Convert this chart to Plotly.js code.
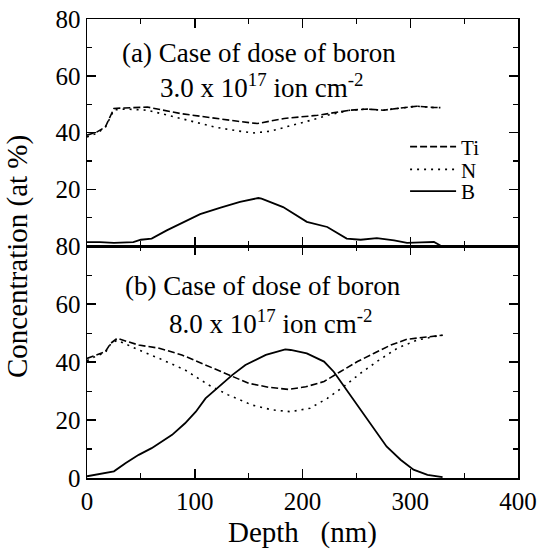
<!DOCTYPE html>
<html>
<head>
<meta charset="utf-8">
<script src="https://cdn.plot.ly/plotly-3.0.1.min.js"></script>
<style>html,body{margin:0;padding:0;background:#fff;}#chart{width:537px;height:549px;}</style>
</head>
<body>
<div id="chart"></div>
<script>
// ---- Panel (a): dose 3.0e17 ----
const tiA_x = [0, 9, 17, 22, 25, 35, 56, 87, 118, 140, 158, 183, 214, 244, 260, 275, 290, 306, 320, 328];
const tiA_y = [39.1, 40.2, 42, 46.1, 48.5, 48.7, 49, 46.7, 45, 44, 43.2, 45, 46.1, 47.9, 48.3, 47.9, 48.6, 49.3, 48.9, 48.8];
const nA_x = [0, 9, 17, 22, 25, 35, 56, 87, 118, 140, 155, 170, 183, 200, 214, 224, 244, 260, 275, 290, 306, 320, 328];
const nA_y = [38.5, 39.8, 41.8, 45.8, 48, 48.3, 47.9, 45, 42, 40.6, 39.9, 40.5, 41.8, 43.5, 45, 46.2, 47.9, 48.3, 47.9, 48.6, 49.3, 48.9, 48.8];
const bA_x = [0, 12, 25, 43, 50, 60, 74, 93, 105, 124, 142, 159, 162, 182, 204, 223, 241, 254, 269, 285, 297, 310, 322, 328];
const bA_y = [1.5, 1.5, 1.2, 1.5, 2.3, 2.7, 5.6, 9.2, 11.3, 13.6, 15.6, 17, 16.8, 13.8, 8.6, 6.8, 2.7, 2.3, 2.9, 2.1, 1.2, 1.4, 1.5, 0.3];

// ---- Panel (b): dose 8.0e17 ----
const tiB_x = [0, 8, 17, 22, 28, 48, 67, 88, 110, 131, 150, 169, 187, 203, 220, 235, 251, 266, 282, 297, 319, 330];
const tiB_y = [41.3, 42.5, 43.6, 46.5, 48.2, 45.9, 44.8, 42.5, 39, 35.6, 32.7, 31.3, 30.6, 31.5, 33.3, 36.7, 40.2, 43, 45.9, 47.9, 49, 49.3];
const nB_x = [0, 8, 17, 22, 28, 48, 67, 91, 113, 131, 153, 172, 189, 207, 223, 238, 254, 269, 288, 306, 325, 330];
const nB_y = [40.5, 42, 43.3, 46.3, 47.6, 44.2, 41.3, 37.3, 32.1, 28.7, 25.2, 23.5, 22.9, 24.1, 27.5, 31.5, 36.2, 40.2, 44.8, 47.6, 49, 49.3];
const bB_x = [0, 11, 25, 36, 48, 60, 79, 91, 101, 110, 122, 135, 147, 166, 184, 189, 204, 220, 229, 241, 254, 266, 278, 291, 303, 316, 330];
const bB_y = [0.6, 1.4, 2.3, 5.2, 8.0, 10.3, 14.9, 18.9, 22.9, 27.5, 31.5, 35.6, 39, 42.5, 44.4, 44.2, 43, 40.2, 36.7, 30.4, 23.5, 17.2, 10.9, 6.3, 2.9, 1.1, 0.3];

const seriesNames = ['Ti', 'N', 'B'];
const xTicks = [0, 100, 200, 300, 400];
const yTicksTop = [20, 40, 60, 80];
const yTicksBottom = [0, 20, 40, 60, 80];
const xTitle = 'Depth\u00A0\u00A0\u00A0(nm)';
const yTitle = 'Concentration (at %)';
const labelA1 = '(a) Case of dose of boron';
const labelA2 = '3.0 x 10<sup>17</sup> ion cm<sup>-2</sup>';
const labelB1 = '(b) Case of dose of boron';
const labelB2 = '8.0 x 10<sup>17</sup> ion cm<sup>-2</sup>';

const FONT = '"Liberation Serif", "Times New Roman", Times, serif';
const dashTi = '7px,3px';
const dashN = '2px,5px';

const traces = [
  {x: tiA_x, y: tiA_y, xaxis: 'x2', yaxis: 'y2', name: seriesNames[0], mode: 'lines', legend: 'legend',
   line: {color: '#000', width: 1.6, dash: dashTi}},
  {x: nA_x, y: nA_y, xaxis: 'x2', yaxis: 'y2', name: seriesNames[1], mode: 'lines', legend: 'legend2',
   line: {color: '#000', width: 1.6, dash: dashN}},
  {x: bA_x, y: bA_y, xaxis: 'x2', yaxis: 'y2', name: seriesNames[2], mode: 'lines', legend: 'legend3',
   line: {color: '#000', width: 1.8}},
  {x: tiB_x, y: tiB_y, xaxis: 'x', yaxis: 'y', name: seriesNames[0], mode: 'lines', showlegend: false,
   line: {color: '#000', width: 1.6, dash: dashTi}},
  {x: nB_x, y: nB_y, xaxis: 'x', yaxis: 'y', name: seriesNames[1], mode: 'lines', showlegend: false,
   line: {color: '#000', width: 1.6, dash: dashN}},
  {x: bB_x, y: bB_y, xaxis: 'x', yaxis: 'y', name: seriesNames[2], mode: 'lines', showlegend: false,
   line: {color: '#000', width: 1.8}}
];

const split = 0.5048;
const axCommon = {
  showline: true, linecolor: '#000', linewidth: 1.5, mirror: 'ticks',
  ticks: 'inside', ticklen: 9, tickwidth: 1.5, tickcolor: '#000',
  showgrid: false, zeroline: false,
  tickfont: {family: FONT, size: 25, color: '#000'}
};

function legendAt(y) {
  return {x: 0.738, y: y, xanchor: 'left', yanchor: 'middle', bgcolor: 'rgba(0,0,0,0)',
    borderwidth: 0, itemwidth: 46, font: {family: FONT, size: 21, color: '#000'}};
}

const layout = {
  width: 537, height: 549,
  margin: {l: 87, r: 19, t: 19, b: 71},
  paper_bgcolor: '#fff', plot_bgcolor: '#fff',
  font: {family: FONT, color: '#000'},
  showlegend: true,
  legend: legendAt(0.7211),
  legend2: legendAt(0.6717),
  legend3: legendAt(0.6244),
  xaxis: Object.assign({}, axCommon, {
    domain: [0, 1], anchor: 'y', range: [0, 400], tickvals: xTicks,
    minor: {dtick: 50, tick0: 0, ticks: 'inside', ticklen: 5, tickwidth: 1.2, tickcolor: '#000'},
    title: {text: xTitle, font: {family: FONT, size: 29, color: '#000'}, standoff: 10}
  }),
  xaxis2: Object.assign({}, axCommon, {
    domain: [0, 1], anchor: 'y2', matches: 'x', range: [0, 400], tickvals: xTicks, showticklabels: false,
    minor: {dtick: 50, tick0: 0, ticks: 'inside', ticklen: 5, tickwidth: 1.2, tickcolor: '#000'}
  }),
  yaxis: Object.assign({}, axCommon, {
    domain: [0, split], anchor: 'x', range: [0, 80], tickvals: yTicksBottom,
    minor: {dtick: 10, tick0: 0, ticks: 'inside', ticklen: 5, tickwidth: 1.2, tickcolor: '#000'}
  }),
  yaxis2: Object.assign({}, axCommon, {
    domain: [split, 1], anchor: 'x2', range: [0, 80], tickvals: yTicksTop,
    minor: {dtick: 10, tick0: 0, ticks: 'inside', ticklen: 5, tickwidth: 1.2, tickcolor: '#000'}
  }),
  annotations: [
    {xref: 'x2', yref: 'y2', x: 160, y: 68.0, text: labelA1, showarrow: false, xanchor: 'center', yanchor: 'middle',
     font: {family: FONT, size: 27, color: '#000'}},
    {xref: 'x2', yref: 'y2', x: 162, y: 56.4, text: labelA2, showarrow: false, xanchor: 'center', yanchor: 'middle',
     font: {family: FONT, size: 27, color: '#000'}},
    {xref: 'x', yref: 'y', x: 163, y: 66.3, text: labelB1, showarrow: false, xanchor: 'center', yanchor: 'middle',
     font: {family: FONT, size: 27, color: '#000'}},
    {xref: 'x', yref: 'y', x: 170, y: 53.9, text: labelB2, showarrow: false, xanchor: 'center', yanchor: 'middle',
     font: {family: FONT, size: 27, color: '#000'}},
    {xref: 'paper', yref: 'paper', x: -0.160, y: 0.4815, text: yTitle, showarrow: false, textangle: -90,
     xanchor: 'center', yanchor: 'middle', font: {family: FONT, size: 29, color: '#000'}}
  ]
};

Plotly.newPlot('chart', traces, layout, {staticPlot: true, displayModeBar: false});
</script>
</body>
</html>
